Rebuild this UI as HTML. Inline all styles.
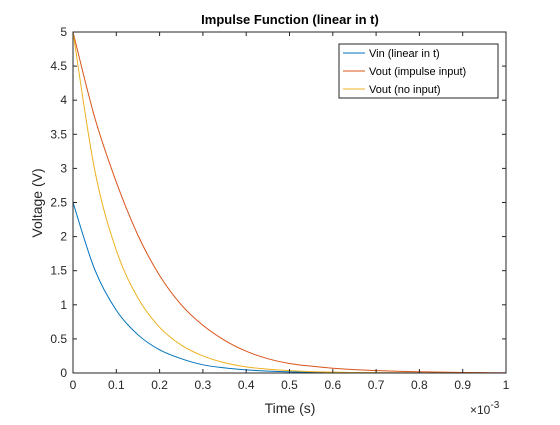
<!DOCTYPE html>
<html><head><meta charset="utf-8"><style>
body{margin:0;background:#fff;font-family:"Liberation Sans",Arial,sans-serif}
svg text{font-family:"Liberation Sans",Arial,sans-serif;fill:#262626}
</style></head><body>
<svg id="chart" width="560" height="420" viewBox="0 0 560 420">
<rect x="0" y="0" width="560" height="420" fill="#fff"/>
<rect x="73" y="32" width="433" height="341" fill="#fff"/>
<g id="series"></g>
<rect x="73" y="32" width="433" height="341" fill="none" stroke="#262626" stroke-width="1"/>
<g id="ticks"></g>
<text x="290" y="24" text-anchor="middle" font-size="13" font-weight="bold" style="fill:#000">Impulse Function (linear in t)</text>
<text x="290" y="413" text-anchor="middle" font-size="14">Time (s)</text>
<text transform="translate(42,203) rotate(-90)" text-anchor="middle" font-size="14">Voltage (V)</text>
<text x="470" y="414" font-size="12">×10<tspan dy="-6" font-size="10">-3</tspan></text>
<g>
<rect x="339" y="44" width="159" height="54" fill="#fff" stroke="#262626" stroke-width="1"/>
<g><line x1="343" y1="53" x2="365" y2="53" stroke="#0072BD"/><text x="369" y="57" font-size="11" style="fill:#000">Vin (linear in t)</text></g>
<g><line x1="343" y1="71" x2="365" y2="71" stroke="#D95319"/><text x="369" y="75" font-size="11" style="fill:#000">Vout (impulse input)</text></g>
<g><line x1="343" y1="89" x2="365" y2="89" stroke="#EDB120"/><text x="369" y="93" font-size="11" style="fill:#000">Vout (no input)</text></g>
</g>
</svg>
<script>
const tValues = [0,0.05,0.1,0.15,0.2,0.25,0.3,0.35,0.4,0.45,0.5,0.55,0.6,0.65,0.7,0.75,0.8,0.85,0.9,0.95,1];
const vinValues = [2.5,1.52,0.92,0.56,0.34,0.21,0.12,0.075,0.046,0.028,0.017,0.01,0.006,0.004,0.002,0.001,0.001,0,0,0,0];
const voutImpulseValues = [5,3.75,2.8,2.02,1.43,1.0,0.7,0.48,0.32,0.21,0.14,0.1,0.07,0.05,0.035,0.025,0.018,0.012,0.008,0.005,0.003];
const voutNoInputValues = [5,2.98,1.8,1.1,0.67,0.41,0.25,0.15,0.09,0.056,0.034,0.02,0.012,0.0075,0.0046,0.0028,0.0017,0.001,0.0006,0.0004,0.0002];
const xTickLabels = ["0","0.1","0.2","0.3","0.4","0.5","0.6","0.7","0.8","0.9","1"];
const yTickLabels = ["0","0.5","1","1.5","2","2.5","3","3.5","4","4.5","5"];

const NS="http://www.w3.org/2000/svg";
const L=73,R=506,T=32,B=373;
const xs=v=>L+(v/1)*(R-L);
const ys=v=>B-(v/5)*(B-T);
const ticks=document.getElementById('ticks');
xTickLabels.forEach(lab=>{
  const v=parseFloat(lab),x=xs(v);
  const t1=document.createElementNS(NS,'line');
  t1.setAttribute('x1',x);t1.setAttribute('x2',x);t1.setAttribute('y1',B);t1.setAttribute('y2',B-4);t1.setAttribute('stroke','#262626');
  
  
  ticks.appendChild(t1);
  const t2=document.createElementNS(NS,'line');
  t2.setAttribute('x1',x);t2.setAttribute('x2',x);t2.setAttribute('y1',T);t2.setAttribute('y2',T+4);t2.setAttribute('stroke','#262626');
  
  
  ticks.appendChild(t2);
  const tx=document.createElementNS(NS,'text');
  tx.setAttribute('x',x);tx.setAttribute('y',B+16);tx.setAttribute('text-anchor','middle');tx.setAttribute('font-size','12');
  tx.textContent=lab;
  
  
  ticks.appendChild(tx);
});
yTickLabels.forEach(lab=>{
  const v=parseFloat(lab),y=ys(v);
  const t1=document.createElementNS(NS,'line');
  t1.setAttribute('x1',L);t1.setAttribute('x2',L+4);t1.setAttribute('y1',y);t1.setAttribute('y2',y);t1.setAttribute('stroke','#262626');
  
  
  ticks.appendChild(t1);
  const t2=document.createElementNS(NS,'line');
  t2.setAttribute('x1',R);t2.setAttribute('x2',R-4);t2.setAttribute('y1',y);t2.setAttribute('y2',y);t2.setAttribute('stroke','#262626');
  
  
  ticks.appendChild(t2);
  const tx=document.createElementNS(NS,'text');
  tx.setAttribute('x',L-6);tx.setAttribute('y',y+4);tx.setAttribute('text-anchor','end');tx.setAttribute('font-size','12');
  tx.textContent=lab;
  
  
  ticks.appendChild(tx);
});
function pathFor(vals){
  const p=tValues.map((t,i)=>[xs(t),ys(vals[i])]);
  let d='M'+p[0][0]+','+p[0][1];
  for(let i=0;i<p.length-1;i++){
    const p0=p[Math.max(0,i-1)],p1=p[i],p2=p[i+1],p3=p[Math.min(p.length-1,i+2)];
    const c1x=p1[0]+(p2[0]-p0[0])/6,c1y=p1[1]+(p2[1]-p0[1])/6;
    const c2x=p2[0]-(p3[0]-p1[0])/6,c2y=p2[1]-(p3[1]-p1[1])/6;
    d+=' C'+c1x+','+c1y+' '+c2x+','+c2y+' '+p2[0]+','+p2[1];
  }
  return d;
}
const series=document.getElementById('series');
[[vinValues,'#0072BD','line-vin'],[voutImpulseValues,'#D95319','line-vout-impulse'],[voutNoInputValues,'#EDB120','line-vout-no-input']].forEach(s=>{
  const pa=document.createElementNS(NS,'path');
  pa.setAttribute('d',pathFor(s[0]));pa.setAttribute('fill','none');pa.setAttribute('stroke',s[1]);pa.setAttribute('stroke-width','1');
  
  
  series.appendChild(pa);
});
</script>
</body></html>
